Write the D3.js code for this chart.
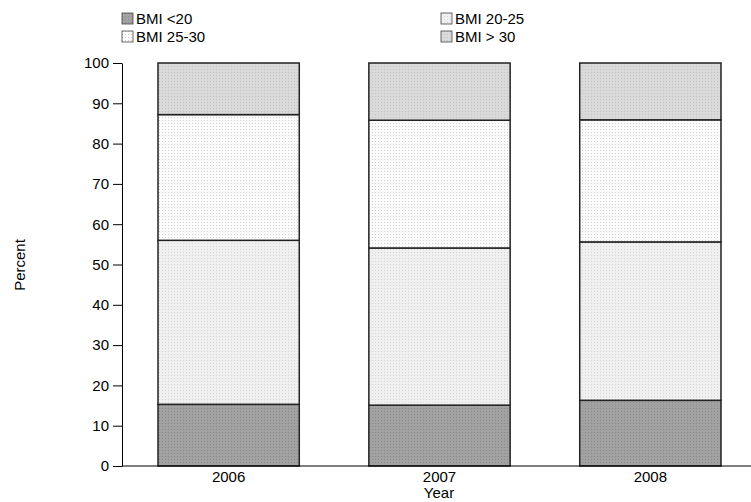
<!DOCTYPE html>
<html>
<head>
<meta charset="utf-8">
<script src="https://cdn.jsdelivr.net/npm/d3@7"></script>
<style>
  body { margin: 0; background: #fff; }
  text { font-family: "Liberation Sans", Arial, sans-serif; fill: #000; }
</style>
</head>
<body>
<div id="chart"></div>
<script>
// data
const years = ["2006", "2007", "2008"];
const groups = ["BMI <20", "BMI 20-25", "BMI 25-30", "BMI > 30"];
const bmiUnder20 = [15.3, 15.1, 16.3];
const bmi20to25 = [40.7, 39.0, 39.3];
const bmi25to30 = [31.2, 31.7, 30.3];
const bmiOver30 = [12.8, 14.2, 14.1];
const yTicks = [0, 10, 20, 30, 40, 50, 60, 70, 80, 90, 100];

const W = 751, H = 502;
const svg = d3.select("#chart").append("svg")
    .attr("width", W)
    .attr("height", H);

// stippled fills like the original
const fills = [
    {id: "p0", bg: "#a2a2a2", dot: "#8a8a8a"},
    {id: "p1", bg: "#f0f0f0", dot: "#d6d6d6"},
    {id: "p2", bg: "#fbfbfb", dot: "#d0d0d0"},
    {id: "p3", bg: "#dadada", dot: "#c4c4c4"}
];
const defs = svg.append("defs");
fills.forEach(f => {
    const p = defs.append("pattern")
        .attr("id", f.id)
        .attr("patternUnits", "userSpaceOnUse")
        .attr("width", 3).attr("height", 3);
    p.append("rect").attr("width", 3).attr("height", 3).attr("fill", f.bg);
    p.append("rect").attr("width", 1).attr("height", 1).attr("fill", f.dot);
});

const rows = years.map((y, i) => ({
    year: y,
    g0: bmiUnder20[i], g1: bmi20to25[i], g2: bmi25to30[i], g3: bmiOver30[i]
}));
const stack = d3.stack().keys(["g0", "g1", "g2", "g3"])(rows);

const x = d3.scaleBand()
    .domain(years)
    .range([123, 756])
    .paddingInner(0.33)
    .paddingOuter(0.166);

const y = d3.scaleLinear()
    .domain([0, 100])
    .range([466, 63]);

// bars
svg.append("g").selectAll("g")
    .data(stack)
    .join("g")
    .attr("fill", (d, i) => `url(#${fills[i].id})`)
    .selectAll("rect")
    .data(d => d)
    .join("rect")
    .attr("x", d => x(d.data.year))
    .attr("width", x.bandwidth())
    .attr("y", d => y(d[1]))
    .attr("height", d => y(d[0]) - y(d[1]))
    .attr("stroke", "#222")
    .attr("stroke-width", 1.5);

// y axis
const yAxis = svg.append("g")
    .attr("transform", "translate(122,0)")
    .call(d3.axisLeft(y).tickValues(yTicks).tickSize(9).tickPadding(4).tickSizeOuter(0));
yAxis.select(".domain").attr("stroke", "#000");
yAxis.selectAll(".tick line").attr("stroke", "#000");
yAxis.selectAll("text").style("font-size", "15px").attr("fill", "#000");

// x axis line across to the right edge
svg.append("line")
    .attr("x1", 122).attr("x2", W)
    .attr("y1", 466).attr("y2", 466)
    .attr("stroke", "#000");

svg.append("g").selectAll("text")
    .data(years)
    .join("text")
    .attr("x", d => x(d) + x.bandwidth() / 2)
    .attr("y", 482)
    .attr("text-anchor", "middle")
    .style("font-size", "15px")
    .text(d => d);

svg.append("text")
    .attr("x", 439)
    .attr("y", 498)
    .attr("text-anchor", "middle")
    .style("font-size", "15px")
    .text("Year");

svg.append("text")
    .attr("transform", "translate(25,265) rotate(-90)")
    .attr("text-anchor", "middle")
    .style("font-size", "15px")
    .text("Percent");

// legend, two columns
const legendPos = [
    {x: 122, y: 13}, {x: 441, y: 13},
    {x: 122, y: 31}, {x: 441, y: 31}
];
const legend = svg.append("g").selectAll("g")
    .data(groups)
    .join("g")
    .attr("transform", (d, i) => `translate(${legendPos[i].x},${legendPos[i].y})`);
legend.append("rect")
    .attr("width", 11).attr("height", 11)
    .attr("fill", (d, i) => `url(#${fills[i].id})`)
    .attr("stroke", "#444")
    .attr("stroke-width", 0.8);
legend.append("text")
    .attr("x", 14)
    .attr("y", 11)
    .style("font-size", "15px")
    .text(d => d);
</script>
</body>
</html>
